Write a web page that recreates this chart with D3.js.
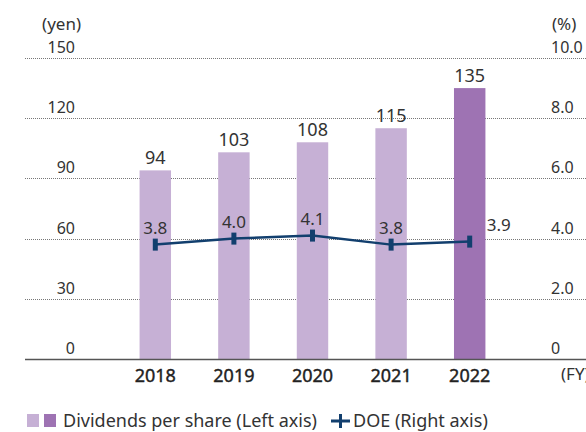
<!DOCTYPE html>
<html>
<head>
<meta charset="utf-8">
<script src="https://cdn.jsdelivr.net/npm/d3@7"></script>
<style>
  body { margin: 0; background: #fff; }
  svg { display: block; font-family: 'Noto Sans', 'Open Sans', sans-serif; }
</style>
</head>
<body>
<svg id="container"></svg>
<script>
// chart data
const years = ['2018', '2019', '2020', '2021', '2022']
const dividends = [94, 103, 108, 115, 135]
const doe = [3.8, 4.0, 4.1, 3.8, 3.9]
const leftTicks = [0, 30, 60, 90, 120, 150]
const rightTicks = [0, 2, 4, 6, 8, 10]

const width = 586
const height = 432

const svg = d3.select('#container')
  .attr('width', width)
  .attr('height', height)

// plot area
const x0 = 25
const x1 = 586
const yTop = 58
const yBase = 359

const x = d3.scaleBand()
  .domain(years)
  .range([116, 509])
  .paddingInner(0.6)
  .paddingOuter(0.3)

const yL = d3.scaleLinear().domain([0, 150]).range([yBase, yTop])
const yR = d3.scaleLinear().domain([0, 10]).range([yBase, yTop])

// dotted gridlines
svg.append('g')
  .selectAll('line')
  .data(leftTicks.filter(d => d > 0))
  .join('line')
  .attr('x1', x0)
  .attr('x2', x1)
  .attr('y1', d => Math.round(yL(d)) + 0.5)
  .attr('y2', d => Math.round(yL(d)) + 0.5)
  .attr('stroke', '#777')
  .attr('stroke-width', 1)
  .attr('stroke-dasharray', '1,1')

// left axis labels
svg.append('g')
  .selectAll('text')
  .data(leftTicks)
  .join('text')
  .attr('x', 75)
  .attr('y', d => yL(d) - 5)
  .attr('text-anchor', 'end')
  .attr('font-size', 16)
  .attr('fill', '#333')
  .text(d => d)

svg.append('text')
  .attr('x', 81)
  .attr('y', 30)
  .attr('text-anchor', 'end')
  .attr('font-size', 17)
  .attr('fill', '#333')
  .text('(yen)')

// right axis labels
svg.append('g')
  .selectAll('text')
  .data(rightTicks)
  .join('text')
  .attr('x', 551)
  .attr('y', d => yR(d) - 5)
  .attr('font-size', 16)
  .attr('fill', '#333')
  .text(d => d === 0 ? '0' : d.toFixed(1))

svg.append('text')
  .attr('x', 552)
  .attr('y', 30)
  .attr('font-size', 17)
  .attr('fill', '#333')
  .text('(%)')

// bars
svg.append('g')
  .selectAll('rect')
  .data(dividends)
  .join('rect')
  .attr('x', (d, i) => x(years[i]))
  .attr('y', d => yL(d))
  .attr('width', x.bandwidth())
  .attr('height', d => yBase - yL(d))
  .attr('fill', (d, i) => i === years.length - 1 ? '#9e73b3' : '#c6b0d5')

// bar value labels
svg.append('g')
  .selectAll('text')
  .data(dividends)
  .join('text')
  .attr('x', (d, i) => x(years[i]) + x.bandwidth() / 2)
  .attr('y', d => yL(d) - 6)
  .attr('text-anchor', 'middle')
  .attr('font-size', 18)
  .attr('fill', '#333')
  .text(d => d)

// baseline
svg.append('line')
  .attr('x1', x0)
  .attr('x2', x1)
  .attr('y1', yBase + 0.5)
  .attr('y2', yBase + 0.5)
  .attr('stroke', '#555')
  .attr('stroke-width', 1.5)

// x axis labels
svg.append('g')
  .selectAll('text')
  .data(years)
  .join('text')
  .attr('x', d => x(d) + x.bandwidth() / 2)
  .attr('y', 382)
  .attr('text-anchor', 'middle')
  .attr('font-size', 18)
  .attr('fill', '#222')
  .attr('stroke', '#222')
  .attr('stroke-width', 0.4)
  .text(d => d)

svg.append('text')
  .attr('x', 561)
  .attr('y', 380)
  .attr('font-size', 17)
  .attr('fill', '#333')
  .text('(FY)')

// DOE line
const cx = (d, i) => x(years[i]) + x.bandwidth() / 2
const line = d3.line()
  .x(cx)
  .y(d => yR(d))

svg.append('path')
  .datum(doe)
  .attr('d', line)
  .attr('fill', 'none')
  .attr('stroke', '#123f6e')
  .attr('stroke-width', 2.5)

svg.append('g')
  .selectAll('rect')
  .data(doe)
  .join('rect')
  .attr('x', (d, i) => cx(d, i) - 2.5)
  .attr('y', d => yR(d) - 6)
  .attr('width', 5)
  .attr('height', 12)
  .attr('fill', '#123f6e')

// DOE labels
svg.append('g')
  .selectAll('text')
  .data(doe)
  .join('text')
  .attr('x', (d, i) => i === doe.length - 1 ? cx(d, i) + 17 : cx(d, i))
  .attr('y', d => yR(d) - 11)
  .attr('text-anchor', (d, i) => i === doe.length - 1 ? 'start' : 'middle')
  .attr('font-size', 17)
  .attr('fill', '#333')
  .text(d => d.toFixed(1))

// legend
const legend = svg.append('g').attr('transform', 'translate(0,427)')
legend.append('rect').attr('x', 27).attr('y', -13).attr('width', 12).attr('height', 13).attr('fill', '#c6b0d5')
legend.append('rect').attr('x', 44).attr('y', -13).attr('width', 12).attr('height', 13).attr('fill', '#9e73b3')
legend.append('text')
  .attr('x', 63)
  .attr('y', 0)
  .attr('font-size', 18)
  .attr('fill', '#333')
  .text('Dividends per share (Left axis)')
legend.append('rect').attr('x', 331).attr('y', -7.5).attr('width', 19).attr('height', 3).attr('fill', '#123f6e')
legend.append('rect').attr('x', 339).attr('y', -13).attr('width', 3).attr('height', 14).attr('fill', '#123f6e')
legend.append('text')
  .attr('x', 353)
  .attr('y', 0)
  .attr('font-size', 18)
  .attr('fill', '#333')
  .text('DOE (Right axis)')
</script>
</body>
</html>
